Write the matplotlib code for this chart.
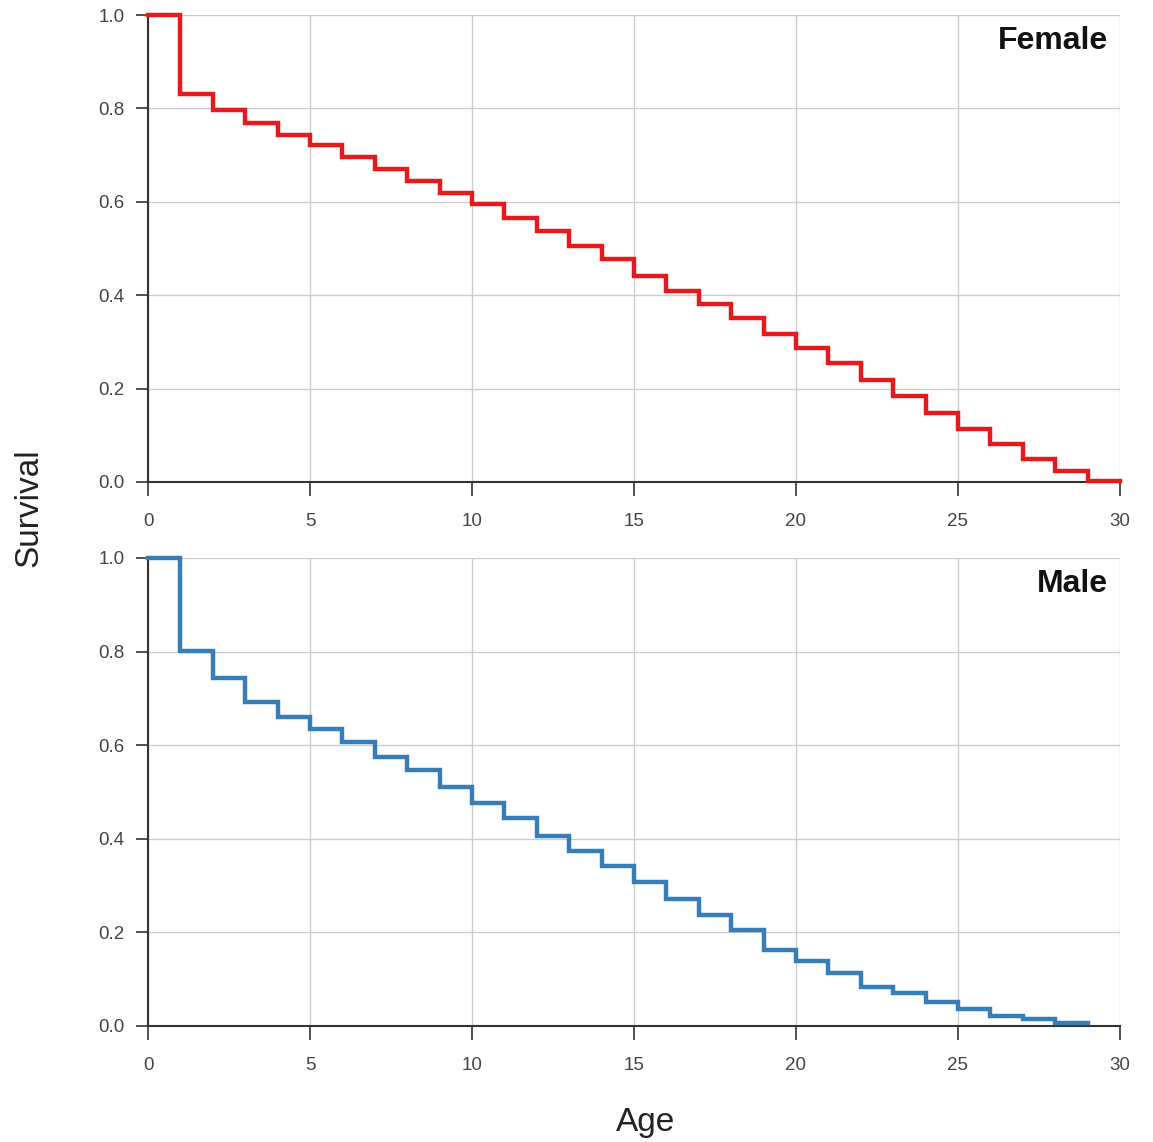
import matplotlib
matplotlib.use("Agg")
import matplotlib.pyplot as plt
import numpy as np

plt.rcParams['font.family'] = ['Liberation Sans', 'DejaVu Sans']

# Survival values per age interval [a, a+1)
female_survival = [1.0, 0.830, 0.796, 0.769, 0.744, 0.721, 0.697, 0.671, 0.645, 0.619,
                   0.596, 0.566, 0.537, 0.506, 0.477, 0.441, 0.408, 0.381, 0.351, 0.317,
                   0.286, 0.255, 0.219, 0.185, 0.147, 0.113, 0.081, 0.050, 0.024, 0.002]
male_survival = [1.0, 0.802, 0.743, 0.692, 0.661, 0.635, 0.606, 0.574, 0.547, 0.511,
                 0.476, 0.445, 0.406, 0.375, 0.341, 0.307, 0.271, 0.237, 0.205, 0.163,
                 0.138, 0.114, 0.084, 0.070, 0.052, 0.036, 0.021, 0.016, 0.007]
panels = ["Female", "Male"]
colors = ["#e41a1c", "#377eb8"]
x_ticks = [0, 5, 10, 15, 20, 25, 30]
y_ticks = [0.0, 0.2, 0.4, 0.6, 0.8, 1.0]

W, H = 1153, 1142
fig = plt.figure(figsize=(W / 100, H / 100), dpi=100)

def ax_rect(left, top, right, bottom):
    return [left / W, 1 - bottom / H, (right - left) / W, (bottom - top) / H]

axes = [fig.add_axes(ax_rect(148, 15, 1120, 482)),
        fig.add_axes(ax_rect(148, 558, 1120, 1026))]

for ax, name, col, vals in zip(axes, panels, colors, [female_survival, male_survival]):
    x = np.arange(len(vals) + 1)
    y = list(vals) + [vals[-1]]
    ax.step(x, y, where='post', color=col, lw=3.2, solid_joinstyle='miter', zorder=3,
            clip_on=False)
    ax.set_xlim(0, 30)
    ax.set_ylim(0, 1.0)
    ax.set_xticks(x_ticks)
    ax.set_yticks(y_ticks)
    ax.set_yticklabels([f"{v:.1f}" for v in y_ticks])
    ax.grid(True, color='#cccccc', lw=1.0, zorder=0)
    ax.set_axisbelow(True)
    for s in ['top', 'right']:
        ax.spines[s].set_visible(False)
    for s in ['left', 'bottom']:
        ax.spines[s].set_color('#333333')
        ax.spines[s].set_linewidth(1.5)
    ax.tick_params(axis='y', length=9, width=1.2, color='#333333', pad=8,
                   labelsize=13.5, labelcolor='#444444')
    ax.tick_params(axis='x', length=10, width=1.2, color='#333333', pad=12,
                   labelsize=13.5, labelcolor='#444444')
    ax.text(0.988, 0.945, name, transform=ax.transAxes, ha='right', va='center',
            fontsize=23, fontweight='bold', color='#111111')

fig.text(29 / W, 1 - 508 / H, "Survival", rotation=90, ha='center', va='center',
         fontsize=24, color='#222222')
fig.text(646 / W, 1 - 1122 / H, "Age", ha='center', va='center',
         fontsize=24, color='#222222')

fig.savefig("out.png", dpi=100)
